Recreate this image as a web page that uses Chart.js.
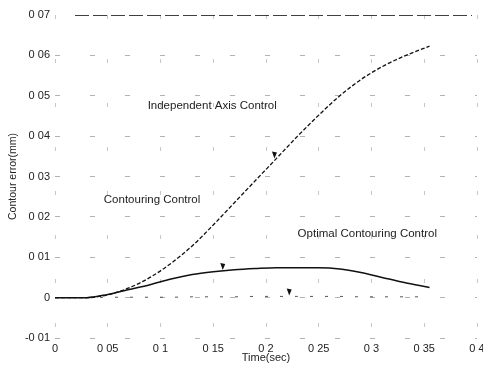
<!DOCTYPE html>
<html>
<head>
<meta charset="utf-8">
<script src="https://cdn.jsdelivr.net/npm/chart.js@4/dist/chart.umd.min.js"></script>
<style>
  html, body { margin: 0; padding: 0; background: #fff; overflow: hidden; }
  #wrap { width: 495px; height: 372px; }
</style>
</head>
<body>
<div id="wrap"><canvas id="grafico" width="495" height="372"></canvas></div>
<script>
// tempos (s) e erros de contorno (mm)
const tempos = [0, 0.03, 0.05, 0.07, 0.09, 0.11, 0.13, 0.15, 0.17, 0.19, 0.21, 0.23, 0.25, 0.27, 0.29, 0.31, 0.33, 0.355];
const erroIndependente = [0, 0, 0.0007, 0.0024, 0.005, 0.0085, 0.0128, 0.018, 0.0235, 0.029, 0.0345, 0.04, 0.0452, 0.05, 0.054, 0.0572, 0.0597, 0.0623];
const erroOtimo = [0, 0, 0.0008, 0.002, 0.0032, 0.0046, 0.0057, 0.0064, 0.0069, 0.0072, 0.0074, 0.0074, 0.0074, 0.0071, 0.0062, 0.005, 0.0038, 0.0025];
const erroContorno = [0, 0, 0.0001, 0.0001, 0.0001, 0.0001, 0.0002, 0.0002, 0.0002, 0.0003, 0.0003, 0.0003, 0.0003, 0.0003, 0.0002, 0.0002, 0.0002, 0.0002];

const xTickLabels = ["0", "0 05", "0 1", "0 15", "0 2", "0 25", "0 3", "0 35", "0 4"];
const yTickLabels = ["-0 01", "0", "0 01", "0 02", "0 03", "0 04", "0 05", "0 06", "0 07"];

// rótulos e setas (coordenadas em unidades de dados)
const rotulos = [
    { texto: "Independent Axis Control", t: 0.149, e: 0.0476 },
    { texto: "Contouring Control", t: 0.092, e: 0.0243 },
    { texto: "Optimal Contouring Control", t: 0.296, e: 0.0159 }
];
const setas = [
    { t: 0.208, e: 0.0352 },
    { t: 0.159, e: 0.0076 },
    { t: 0.222, e: 0.0013 }
];

const pontos = (ys) => tempos.map((t, i) => ({ x: t, y: ys[i] }));

const pluginRotulos = {
    id: "rotulos",
    beforeDatasetsDraw(chart) {
        // linha de topo tracejada (moldura em 0.07)
        const ctx = chart.ctx, a = chart.chartArea;
        ctx.save();
        ctx.strokeStyle = "rgba(0,0,0,0.75)";
        ctx.lineWidth = 1;
        ctx.setLineDash([14, 4]);
        ctx.beginPath();
        ctx.moveTo(a.left + 20, a.top + 0.5);
        ctx.lineTo(a.right - 5, a.top + 0.5);
        ctx.stroke();
        ctx.restore();
    },
    afterDatasetsDraw(chart) {
        const ctx = chart.ctx;
        const sx = chart.scales.x, sy = chart.scales.y;
        ctx.save();
        ctx.fillStyle = "#222";
        ctx.font = "11.5px 'Liberation Sans', Arial, sans-serif";
        ctx.textAlign = "center";
        ctx.textBaseline = "middle";
        rotulos.forEach(r => ctx.fillText(r.texto, sx.getPixelForValue(r.t), sy.getPixelForValue(r.e)));
        ctx.fillStyle = "#111";
        setas.forEach(s => {
            const px = sx.getPixelForValue(s.t), py = sy.getPixelForValue(s.e);
            ctx.beginPath();
            ctx.moveTo(px, py + 3);
            ctx.lineTo(px - 2.5, py - 4);
            ctx.lineTo(px + 2.5, py - 3);
            ctx.closePath();
            ctx.fill();
        });
        ctx.restore();
    }
};

const fonte = { family: "'Liberation Sans', Arial, sans-serif", size: 11 };

new Chart(document.getElementById("grafico").getContext("2d"), {
    type: "line",
    data: {
        datasets: [
            {
                label: "Independent Axis Control",
                data: pontos(erroIndependente),
                borderColor: "#111",
                borderWidth: 1.3,
                borderDash: [4, 2],
                pointRadius: 0,
                cubicInterpolationMode: "monotone"
            },
            {
                label: "Optimal Contouring Control",
                data: pontos(erroOtimo),
                borderColor: "#111",
                borderWidth: 1.5,
                pointRadius: 0,
                cubicInterpolationMode: "monotone"
            },
            {
                label: "Contouring Control",
                data: pontos(erroContorno),
                borderColor: "#555",
                borderWidth: 1,
                borderDash: [3, 12],
                pointRadius: 0,
                cubicInterpolationMode: "monotone"
            }
        ]
    },
    plugins: [pluginRotulos],
    options: {
        responsive: false,
        animation: false,
        layout: { padding: { top: 15, right: 18, left: 7, bottom: 7 } },
        plugins: {
            legend: { display: false },
            tooltip: { enabled: false }
        },
        scales: {
            x: {
                type: "linear",
                min: 0,
                max: 0.4,
                afterFit: (s) => { s.height = 27; },
                ticks: {
                    stepSize: 0.05,
                    color: "#222",
                    font: fonte,
                    padding: 4,
                    maxRotation: 0,
                    callback: (v, i) => xTickLabels[i]
                },
                grid: {
                    color: "rgba(0,0,0,0.22)",
                    drawTicks: false
                },
                border: { display: false, dash: [4, 40] },
                title: {
                    display: true,
                    text: "Time(sec)",
                    color: "#222",
                    font: fonte,
                    padding: 0
                }
            },
            y: {
                min: -0.01,
                max: 0.07,
                afterFit: (s) => { s.width = 48; },
                ticks: {
                    stepSize: 0.01,
                    color: "#222",
                    font: fonte,
                    padding: 5,
                    callback: (v, i) => yTickLabels[i]
                },
                grid: {
                    color: (c) => c.index === 8 ? "rgba(0,0,0,0)" : "rgba(0,0,0,0.3)",
                    drawTicks: false
                },
                border: { display: false, dash: [5, 30] },
                title: {
                    display: true,
                    text: "Contour error(mm)",
                    color: "#222",
                    font: { family: "'Liberation Sans', Arial, sans-serif", size: 10.5 },
                    padding: 0
                }
            }
        }
    }
});
</script>
</body>
</html>
